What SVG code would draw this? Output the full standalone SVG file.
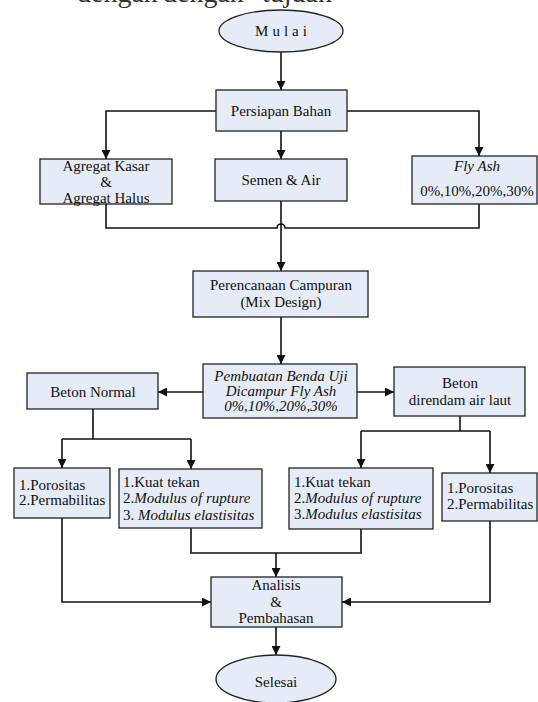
<svg xmlns="http://www.w3.org/2000/svg" width="538" height="702" viewBox="0 0 538 702">
<style>
.box{fill:#E6ECF7;stroke:#222;stroke-width:1.3}
.t{font-family:"Liberation Serif","Times New Roman",serif;font-size:15px;fill:#111}
.c{text-anchor:middle}
.i{font-style:italic}
.ln{fill:none;stroke:#111;stroke-width:1.6}
.top{font-family:"Liberation Serif","Times New Roman",serif;font-size:28px;fill:#333}
</style>
<defs>
<marker id="ah" viewBox="0 0 10 10" refX="10" refY="5" markerWidth="9" markerHeight="9" markerUnits="userSpaceOnUse" orient="auto">
<path d="M0,0 L10,5 L0,10 z" fill="#111"/>
</marker>
</defs>
<rect width="538" height="702" fill="#fff"/>
<g id="toptext">
<text class="top" x="77" y="2">dengan</text>
<text class="top" x="163" y="2">dengan</text>
<text class="top" x="262" y="2">tujuan</text>
</g>
<g id="connectors">
<path class="ln" d="M281,52 V90" marker-end="url(#ah)"/>
<path class="ln" d="M216,111 H106 V159" marker-end="url(#ah)"/>
<path class="ln" d="M281,131 V159" marker-end="url(#ah)"/>
<path class="ln" d="M347,111 H479 V156" marker-end="url(#ah)"/>
<path class="ln" d="M106,204 V228 H277 A4,4 0 0 1 285,228 H479 V204"/>
<path class="ln" d="M281,201 V271" marker-end="url(#ah)"/>
<path class="ln" d="M281,317 V364" marker-end="url(#ah)"/>
<path class="ln" d="M203,392 H158" marker-end="url(#ah)"/>
<path class="ln" d="M357,392 H394" marker-end="url(#ah)"/>
<path class="ln" d="M93,409 V439 M62,439 H191"/>
<path class="ln" d="M62,439 V468" marker-end="url(#ah)"/>
<path class="ln" d="M191,439 V469" marker-end="url(#ah)"/>
<path class="ln" d="M460,416 V431 M361,431 H490"/>
<path class="ln" d="M361,431 V468" marker-end="url(#ah)"/>
<path class="ln" d="M490,431 V473" marker-end="url(#ah)"/>
<path class="ln" d="M191,528 V553 H361 V529"/>
<path class="ln" d="M276,553 V577" marker-end="url(#ah)"/>
<path class="ln" d="M62,518 V602 H211" marker-end="url(#ah)"/>
<path class="ln" d="M490,521 V602 H342" marker-end="url(#ah)"/>
<path class="ln" d="M276,627 V655" marker-end="url(#ah)"/>
</g>
<g id="mulai">
<ellipse class="box" cx="281" cy="31" rx="62" ry="21"/>
<text class="t c" x="283" y="36" letter-spacing="4">Mulai</text>
</g>
<g id="persiapan">
<rect class="box" x="216" y="90" width="131" height="41"/>
<text class="t c" x="281" y="116">Persiapan Bahan</text>
</g>
<g id="agregat">
<rect class="box" x="40" y="159" width="132" height="45"/>
<text class="t c" x="106" y="171">Agregat Kasar</text>
<text class="t c" x="106" y="187">&amp;</text>
<text class="t c" x="106" y="203">Agregat Halus</text>
</g>
<g id="semen">
<rect class="box" x="215" y="159" width="132" height="42"/>
<text class="t c" x="281" y="185">Semen &amp; Air</text>
</g>
<g id="flyash">
<rect class="box" x="412" y="156" width="125" height="48"/>
<text class="t c i" x="477" y="171">Fly Ash</text>
<text class="t c" x="477" y="196">0%,10%,20%,30%</text>
</g>
<g id="perencanaan">
<rect class="box" x="193" y="271" width="175" height="46"/>
<text class="t c" x="281" y="290">Perencanaan Campuran</text>
<text class="t c" x="281" y="307">(Mix Design)</text>
</g>
<g id="pembuatan">
<rect class="box" x="203" y="364" width="154" height="54"/>
<text class="t c i" x="281" y="381">Pembuatan Benda Uji</text>
<text class="t c i" x="281" y="396">Dicampur Fly Ash</text>
<text class="t c i" x="281" y="411">0%,10%,20%,30%</text>
</g>
<g id="betonnormal">
<rect class="box" x="27" y="373" width="131" height="36"/>
<text class="t c" x="93" y="397">Beton Normal</text>
</g>
<g id="betonlaut">
<rect class="box" x="394" y="367" width="131" height="49"/>
<text class="t c" x="460" y="388">Beton</text>
<text class="t c" x="460" y="405">direndam air laut</text>
</g>
<g id="porositas1">
<rect class="box" x="14" y="468" width="96" height="50"/>
<text class="t" x="19" y="490">1.Porositas</text>
<text class="t" x="19" y="505">2.Permabilitas</text>
</g>
<g id="kuat1">
<rect class="box" x="119" y="469" width="143" height="59"/>
<text class="t" x="123" y="487">1.Kuat tekan</text>
<text class="t" x="123" y="503">2.<tspan class="i">Modulus of rupture</tspan></text>
<text class="t" x="123" y="520">3. <tspan class="i">Modulus elastisitas</tspan></text>
</g>
<g id="kuat2">
<rect class="box" x="289" y="468" width="144" height="61"/>
<text class="t" x="294" y="487">1.Kuat tekan</text>
<text class="t" x="294" y="503">2.<tspan class="i">Modulus of rupture</tspan></text>
<text class="t" x="294" y="519">3.<tspan class="i">Modulus elastisitas</tspan></text>
</g>
<g id="porositas2">
<rect class="box" x="442" y="473" width="95" height="48"/>
<text class="t" x="447" y="493">1.Porositas</text>
<text class="t" x="447" y="509">2.Permabilitas</text>
</g>
<g id="analisis">
<rect class="box" x="211" y="577" width="131" height="50"/>
<text class="t c" x="276" y="590">Analisis</text>
<text class="t c" x="276" y="607">&amp;</text>
<text class="t c" x="276" y="623">Pembahasan</text>
</g>
<g id="selesai">
<ellipse class="box" cx="276" cy="679" rx="60" ry="24"/>
<text class="t c" x="276" y="687">Selesai</text>
</g>
</svg>
